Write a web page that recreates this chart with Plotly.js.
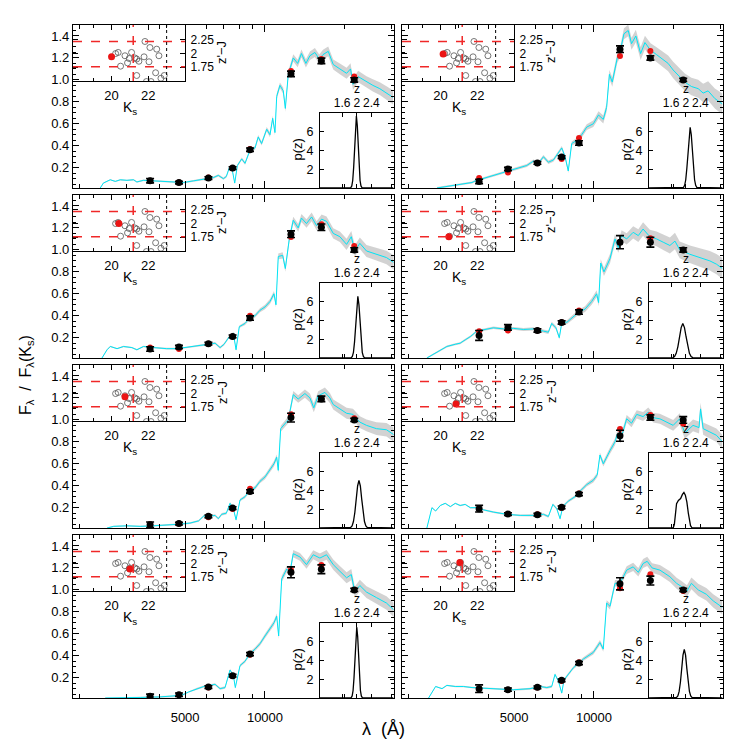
<!DOCTYPE html>
<html><head><meta charset="utf-8">
<script src="https://cdn.plot.ly/plotly-3.0.1.min.js"></script>
<style>html,body{margin:0;padding:0;background:#fff;}#plot{width:747px;height:747px;}</style>
</head><body><div id="plot"></div>
<script>
// ---------------- DATA ----------------
const filterWave = [3690, 4740, 6120, 7550, 8780, 12530, 16310, 21690];

const obs1 = [0.082,0.065,0.106,0.197,0.364,1.055,1.173,1.0];
const obs2 = [0.075,0.188,0.243,0.297,0.425,1.28,1.2,1.0];
const obs3 = [0.097,0.115,0.145,0.212,0.379,1.143,1.206,1.0];
const obs4 = [0.221,0.294,0.266,0.339,0.433,1.07,1.07,1.0];
const obs5 = [0.045,0.055,0.121,0.197,0.348,1.021,1.191,1.0];
const obs6 = [0.191,0.142,0.136,0.203,0.324,0.855,1.021,1.0];
const obs7 = [0.03,0.045,0.115,0.218,0.415,1.16,1.188,1.0];
const obs8 = [0.1,0.091,0.112,0.176,0.333,1.055,1.085,1.0];

const err1 = [0.02,0.012,0.012,0.012,0.015,0.025,0.025,0.02];
const err2 = [0.02,0.015,0.012,0.012,0.02,0.03,0.02,0.015];
const err3 = [0.02,0.015,0.012,0.012,0.02,0.03,0.03,0.02];
const err4 = [0.045,0.025,0.015,0.015,0.02,0.06,0.045,0.02];
const err5 = [0.025,0.012,0.012,0.012,0.015,0.04,0.025,0.015];
const err6 = [0.03,0.012,0.012,0.012,0.015,0.05,0.025,0.03];
const err7 = [0.02,0.015,0.012,0.012,0.015,0.05,0.04,0.015];
const err8 = [0.035,0.015,0.012,0.012,0.015,0.055,0.04,0.015];

const model1 = [0.08,0.065,0.11,0.195,0.37,1.08,1.19,1.03];
const model2 = [0.105,0.157,0.24,0.28,0.47,1.218,1.264,1.0];
const model3 = [0.11,0.097,0.145,0.21,0.40,1.117,1.233,1.036];
const model4 = [0.258,0.266,0.266,0.34,0.448,1.07,1.106,1.0];
const model5 = [0.05,0.055,0.112,0.188,0.372,1.052,1.19,1.015];
const model6 = [0.19,0.142,0.14,0.2,0.33,0.918,1.045,0.964];
const model7 = [0.03,0.045,0.11,0.215,0.41,1.18,1.227,1.0];
const model8 = [0.1,0.09,0.11,0.17,0.34,1.015,1.143,0.99];

// template spectra: [wavelength (A), F_lambda / F_lambda(Ks)]
const spec1 = [[2394,0.015],[2460,0.06],[2612,0.09],[2728,0.075],[2849,0.09],[3017,0.085],[3195,0.09],[3290,0.07],[3485,0.085],[3800,0.08],[4145,0.075],[4520,0.065],[4930,0.065],[5375,0.08],[5693,0.09],[6035,0.1],[6390,0.11],[6670,0.13],[6970,0.1],[7150,0.12],[7340,0.2],[7540,0.17],[7690,0.06],[7870,0.22],[8170,0.28],[8410,0.24],[8781,0.36],[9170,0.38],[9430,0.48],[9710,0.42],[10150,0.55],[10443,0.5],[10690,0.65],[10905,0.52],[11070,0.85],[11387,0.95],[11720,0.9],[11930,0.74],[12240,1.05],[12780,1.2],[13280,1.15],[13720,1.24],[14260,1.15],[14770,1.22],[15420,1.25],[16010,1.19],[16540,1.23],[17310,1.26],[18080,1.14],[19150,1.1],[20300,1.06],[21010,1.1],[21460,0.96],[22440,1.03],[24130,0.98],[25500,0.95],[27080,0.92],[28700,0.88],[30400,0.84]];
const spec2 = [[2560,0.015],[2790,0.03],[3130,0.05],[3470,0.065],[3570,0.08],[4060,0.12],[4690,0.165],[5270,0.2],[5580,0.22],[5910,0.26],[6170,0.24],[6450,0.3],[6730,0.25],[7030,0.27],[7340,0.33],[7560,0.38],[7780,0.3],[8000,0.17],[8240,0.42],[8620,0.45],[8990,0.5],[9390,0.57],[9940,0.6],[10400,0.68],[10840,0.64],[11160,0.75],[11430,1.05],[11720,0.98],[12000,1.1],[12240,1.2],[12530,1.25],[12970,1.42],[13460,1.45],[13850,1.33],[14380,1.4],[14990,1.24],[15560,1.34],[16340,1.27],[17210,1.23],[18230,1.18],[19030,1.15],[19880,1.09],[21040,1.03],[21990,0.98],[23290,0.94],[24700,0.92],[25790,0.88],[26920,0.9],[28540,0.83],[30480,0.78]];
const spec3 = [[2430,0.015],[2540,0.09],[2612,0.12],[2770,0.1],[2930,0.12],[3150,0.11],[3290,0.09],[3485,0.12],[3800,0.11],[4260,0.1],[4650,0.1],[5070,0.11],[5693,0.13],[6156,0.14],[6484,0.15],[6771,0.11],[7010,0.14],[7340,0.21],[7600,0.24],[7780,0.09],[8000,0.3],[8410,0.33],[8781,0.38],[9170,0.4],[9576,0.45],[10000,0.48],[10443,0.53],[10810,0.6],[11000,0.5],[11220,0.94],[11660,0.95],[11930,0.83],[12350,1.1],[12780,1.27],[13340,1.2],[13720,1.29],[14340,1.24],[14990,1.3],[15650,1.22],[16340,1.28],[17060,1.26],[18080,1.15],[19150,1.12],[20300,1.05],[21150,1.12],[21810,0.99],[22775,1.06],[24130,0.99],[26300,0.96],[28700,0.93],[30800,0.88]];
const spec4 = [[2345,0.015],[2560,0.07],[2790,0.12],[3000,0.14],[3130,0.15],[3270,0.18],[3420,0.21],[3620,0.26],[3840,0.27],[4180,0.29],[4560,0.28],[4970,0.285],[5420,0.275],[5910,0.28],[6450,0.26],[6730,0.25],[6930,0.33],[7190,0.29],[7400,0.2],[7580,0.35],[7900,0.34],[8240,0.38],[8730,0.43],[9250,0.46],[9800,0.53],[10230,0.6],[10410,0.52],[10600,0.88],[10905,0.8],[11490,0.92],[12000,1.1],[12350,1.02],[12700,1.13],[13280,1.1],[14050,1.16],[14690,1.13],[15310,1.19],[16240,1.12],[17210,1.1],[18230,1.07],[19320,1.04],[20190,1.08],[21040,1.0],[22980,0.96],[25030,0.93],[27320,0.9],[28930,0.87],[30480,0.83]];
const spec5 = [[2540,0.015],[2690,0.03],[3017,0.035],[3386,0.03],[3800,0.035],[4260,0.04],[4788,0.05],[5222,0.06],[5620,0.08],[5880,0.125],[6156,0.12],[6484,0.13],[6670,0.1],[6870,0.14],[7150,0.15],[7384,0.24],[7600,0.19],[7780,0.09],[8052,0.27],[8410,0.3],[8781,0.36],[9170,0.38],[9576,0.44],[10000,0.48],[10443,0.55],[10810,0.6],[11070,0.66],[11220,0.54],[11460,0.92],[11890,0.96],[12240,1.0],[12780,1.23],[13340,1.19],[14140,1.24],[14770,1.2],[15270,1.11],[15870,1.22],[16820,1.25],[17560,1.2],[18080,1.14],[19150,1.1],[20300,1.06],[21460,1.05],[22775,0.98],[24130,0.95],[26300,0.92],[28700,0.91],[30800,0.86]];
const spec6 = [[2345,0.015],[2450,0.2],[2530,0.17],[2635,0.22],[2750,0.24],[2875,0.21],[3000,0.24],[3130,0.22],[3270,0.23],[3420,0.2],[3620,0.2],[3840,0.18],[4180,0.16],[4690,0.14],[5270,0.13],[5910,0.13],[6450,0.14],[6730,0.12],[7000,0.23],[7240,0.19],[7450,0.1],[7630,0.21],[8000,0.26],[8480,0.3],[8860,0.35],[9390,0.41],[9940,0.45],[10290,0.5],[10530,0.68],[10840,0.6],[11490,0.72],[12000,0.8],[12240,0.87],[12600,0.82],[13280,1.01],[13850,0.97],[14490,1.05],[15310,1.03],[16010,1.07],[16720,1.02],[17710,1.01],[18760,0.98],[19880,0.95],[21040,1.01],[21990,0.88],[23620,0.95],[24880,0.93],[25210,1.1],[25790,0.92],[27320,0.89],[28930,0.86],[30480,0.8]];
const spec7 = [[2500,0.015],[2849,0.02],[3386,0.02],[4027,0.025],[4520,0.03],[4860,0.04],[5150,0.07],[5540,0.1],[5880,0.12],[6210,0.13],[6484,0.14],[6771,0.1],[7071,0.11],[7384,0.27],[7600,0.22],[7730,0.11],[8052,0.31],[8410,0.35],[8781,0.42],[9170,0.46],[9576,0.51],[10000,0.58],[10443,0.65],[10810,0.7],[11070,0.76],[11260,0.58],[11560,1.1],[12080,1.19],[12418,1.16],[12780,1.33],[13542,1.3],[14340,1.23],[15200,1.32],[16104,1.29],[17060,1.32],[18080,1.23],[19150,1.17],[20300,1.11],[21150,1.14],[21810,0.98],[22775,1.04],[24130,0.98],[26300,0.93],[28700,0.88],[30800,0.81]];
const spec8 = [[2380,0.015],[2530,0.12],[2675,0.1],[2790,0.13],[3000,0.12],[3220,0.12],[3470,0.11],[3720,0.105],[4300,0.1],[4970,0.09],[5740,0.1],[6260,0.12],[6640,0.11],[6930,0.12],[7130,0.23],[7340,0.17],[7560,0.06],[7710,0.18],[8360,0.29],[9120,0.37],[9940,0.43],[10530,0.52],[10840,0.46],[11160,0.88],[11490,0.85],[12000,1.06],[12530,1.06],[13280,1.18],[14050,1.21],[14690,1.16],[15310,1.24],[15870,1.26],[16560,1.2],[17710,1.18],[19320,1.12],[20480,1.06],[21370,1.03],[22410,0.99],[23290,1.06],[24700,1.0],[26510,0.96],[28140,0.9],[30480,0.84]];

// half-width of the grey uncertainty band along wavelength
const bandWave = [2300, 5000, 8000, 10000, 12000, 15000, 20000, 25000, 31000];
const bandHalf = [0.005, 0.008, 0.012, 0.02, 0.03, 0.04, 0.05, 0.055, 0.065];
const bandScale = [1, 1.5, 1, 1.5, 1, 1, 1, 1];

// colour-magnitude inset: comparison sample (open circles)
const sampleKs    = [20.22,20.36,20.49,20.73,20.87,20.96,21.09,21.27,21.37,21.49,21.37,21.82,21.77,22.04,22.09,22.46,22.58,22.40,22.69,22.87,21.9,22.15];
const sampleColor = [2.0,2.02,1.77,1.96,1.83,1.91,2.02,1.92,1.90,1.86,1.6,2.22,1.94,1.85,2.11,2.08,1.96,1.65,1.55,1.60,1.49,1.49];
// highlighted object per panel
const objKs    = [20.0,20.14,20.4,20.45,20.73,20.84,21.0,21.05];
const objColor = [1.94,1.99,2.0,1.76,1.94,1.81,1.9,2.02];
const cutKs = 21.18, cutColorHi = 2.22, cutColorLo = 1.76, limitKs = 23.0;

// p(z) curves
const pzZ1 = [1.0,1.84,1.865,1.89,1.915,1.94,1.965,1.99,2.015,2.04,2.065,2.09,2.115,2.14,3.0];
const pzP1 = [0,0.05,0.22,0.8,2.16,4.37,6.68,7.7,6.68,4.37,2.16,0.8,0.22,0.05,0];
const pzZ2 = [1.0,1.94,1.97,2.0,2.03,2.06,2.09,2.12,2.15,2.18,2.21,2.24,2.27,2.30,3.0];
const pzP2 = [0,0.07,0.29,0.88,2.11,3.94,5.73,6.5,5.73,3.94,2.11,0.88,0.29,0.07,0];
const pzZ3 = [1.0,1.85,1.88,1.91,1.94,1.97,2.0,2.03,2.06,2.09,2.12,2.15,2.18,2.21,3.0];
const pzP3 = [0,0.03,0.16,0.61,1.73,3.64,5.69,6.6,5.69,3.64,1.73,0.61,0.16,0.03,0];
const pzZ4 = [1.0,1.65,1.695,1.74,1.785,1.83,1.875,1.92,1.965,2.01,2.055,2.1,2.145,2.19,3.0];
const pzP4 = [0,0.04,0.16,0.5,1.2,2.25,3.26,3.7,3.26,2.25,1.2,0.5,0.16,0.04,0];
const pzZ5 = [1.0,1.835,1.873,1.91,1.948,1.985,2.023,2.06,2.098,2.135,2.173,2.21,2.248,2.285,3.0];
const pzP5 = [0,0.06,0.22,0.69,1.66,3.09,4.5,5.1,4.5,3.09,1.66,0.69,0.22,0.06,0];
const pzZ6 = [1.0,1.66,1.69,1.72,1.75,1.8,1.86,1.91,1.95,1.99,2.03,2.07,2.1,2.13,2.17,3.0];
const pzP6 = [0,0.02,0.4,1.8,2.6,2.95,3.15,3.6,3.8,3.5,2.8,1.6,0.8,0.25,0.02,0];
const pzZ7 = [1.0,1.85,1.875,1.9,1.925,1.95,1.975,2.0,2.025,2.05,2.075,2.1,2.125,2.15,3.0];
const pzP7 = [0,0.05,0.22,0.8,2.13,4.31,6.59,7.6,6.59,4.31,2.13,0.8,0.22,0.05,0];
const pzZ8 = [1.0,1.75,1.785,1.82,1.855,1.89,1.925,1.96,1.995,2.03,2.065,2.1,2.135,2.17,3.0];
const pzP8 = [0,0.06,0.22,0.7,1.69,3.15,4.59,5.2,4.59,3.15,1.69,0.7,0.22,0.06,0];

const xTickVals = [5000, 10000];
const xTickText = ['5000', '10000'];
const xMinorVals = [2000,3000,4000,6000,7000,8000,9000,20000,30000];
const cmdTickVals = [20, 22];
const cmdColorTicks = [1.75, 2, 2.25];
const cmdColorText = ['1.75', '2', '2.25'];
const pzTickVals = [1.6, 2, 2.4];
const pzTickText = ['1.6', '2', '2.4'];
const pTickVals = [2, 4, 6];

// ---------------- BUILD ----------------
const specs = [spec1,spec2,spec3,spec4,spec5,spec6,spec7,spec8];
const obs = [obs1,obs2,obs3,obs4,obs5,obs6,obs7,obs8];
const errs = [err1,err2,err3,err4,err5,err6,err7,err8];
const models = [model1,model2,model3,model4,model5,model6,model7,model8];
const pzZ = [pzZ1,pzZ2,pzZ3,pzZ4,pzZ5,pzZ6,pzZ7,pzZ8];
const pzP = [pzP1,pzP2,pzP3,pzP4,pzP5,pzP6,pzP7,pzP8];

const W = 747, H = 747;
const FONT = 'Liberation Sans, Arial, Helvetica, sans-serif';
const colX = [73, 402], rowTop = [25, 195, 365, 535];
const mainW = 320.5, mainH = 163;
const fx = p => p / W, fy = p => 1 - p / H;
const sfx = n => n === 1 ? '' : String(n);
const CYAN = 'rgb(0,228,245)';

function bandAt(w) {
  const lw = Math.log10(w);
  for (let i = 0; i < bandWave.length - 1; i++) {
    const a = Math.log10(bandWave[i]), b = Math.log10(bandWave[i + 1]);
    if (lw <= b || i === bandWave.length - 2) {
      const t = Math.max(0, Math.min(1, (lw - a) / (b - a)));
      return bandHalf[i] + t * (bandHalf[i + 1] - bandHalf[i]);
    }
  }
  return bandHalf[bandHalf.length - 1];
}

const data = [];
const layout = {
  width: W, height: H, autosize: false,
  margin: {l: 0, r: 0, t: 0, b: 0},
  showlegend: false,
  paper_bgcolor: '#fff', plot_bgcolor: 'rgba(0,0,0,0)',
  font: {family: FONT, size: 13, color: '#000'},
  shapes: [], annotations: []
};

const axCommon = {
  showgrid: false, zeroline: false, showline: true, linecolor: '#000', linewidth: 1.1,
  mirror: 'ticks', ticks: 'inside', tickcolor: '#000', tickwidth: 1,
  tickfont: {family: FONT, size: 13, color: '#000'}, fixedrange: true
};

for (let k = 0; k < 8; k++) {
  const col = k % 2, row = Math.floor(k / 2);
  const x0 = colX[col], top = rowTop[row];
  const mi = k + 1, ci = k + 9, pi = k + 17;

  // ---- main SED panel ----
  layout['xaxis' + sfx(mi)] = Object.assign({}, axCommon, {
    domain: [fx(x0), fx(x0 + mainW)], anchor: 'y' + sfx(mi),
    type: 'log', range: [Math.log10(1890), Math.log10(30500)],
    tickmode: 'array', tickvals: xTickVals, ticktext: xTickText, ticklen: 7,
    showticklabels: row === 3, ticklabelstandoff: 7,
    minor: {tickmode: 'array', tickvals: xMinorVals, ticks: 'inside', ticklen: 4, tickcolor: '#000'}
  });
  layout['yaxis' + sfx(mi)] = Object.assign({}, axCommon, {
    domain: [fy(top + mainH), fy(top)], anchor: 'x' + sfx(mi),
    range: [0.015, 1.5], tickmode: 'linear', tick0: 0.2, dtick: 0.2, tickformat: '.1f',
    ticklen: 6, showticklabels: col === 0,
    minor: {dtick: 0.05, tick0: 0, ticks: 'inside', ticklen: 3, tickcolor: '#000'}
  });

  const sp = specs[k];
  const wv = sp.map(p => p[0]), fl = sp.map(p => p[1]);
  const lo = sp.map(p => p[1] - bandAt(p[0]) * bandScale[k]);
  const hi = sp.map(p => p[1] + bandAt(p[0]) * bandScale[k]);
  const xr = 'x' + sfx(mi), yr = 'y' + sfx(mi);
  data.push({x: wv, y: lo, xaxis: xr, yaxis: yr, type: 'scatter', mode: 'lines', line: {width: 0, color: 'rgba(0,0,0,0)'}, hoverinfo: 'skip'});
  data.push({x: wv, y: hi, xaxis: xr, yaxis: yr, type: 'scatter', mode: 'lines', line: {width: 0, color: 'rgba(0,0,0,0)'}, fill: 'tonexty', fillcolor: 'rgba(195,195,195,0.75)', hoverinfo: 'skip'});
  data.push({x: wv, y: fl, xaxis: xr, yaxis: yr, type: 'scatter', mode: 'lines', line: {width: 1, color: CYAN}});
  data.push({x: filterWave, y: models[k], xaxis: xr, yaxis: yr, type: 'scatter', mode: 'markers', marker: {size: 6, color: 'rgb(235,20,20)'}});
  data.push({x: filterWave, y: obs[k], xaxis: xr, yaxis: yr, type: 'scatter', mode: 'markers',
    marker: {size: 7, color: '#000'},
    error_y: {type: 'data', array: errs[k], color: '#000', thickness: 1.6, width: 4}});

  // ---- colour-magnitude inset ----
  const cx0 = x0, cx1 = x0 + 112, cy0 = top, cy1 = top + 56;
  layout['xaxis' + ci] = Object.assign({}, axCommon, {
    domain: [fx(cx0), fx(cx1)], anchor: 'y' + ci, range: [17.9, 24.0],
    tickmode: 'array', tickvals: cmdTickVals, ticklen: 5, ticklabelstandoff: 2,
    minor: {tickmode: 'array', tickvals: [19, 21, 23], ticks: 'inside', ticklen: 3, tickcolor: '#000'}
  });
  layout['yaxis' + ci] = Object.assign({}, axCommon, {
    domain: [fy(cy1), fy(cy0)], anchor: 'x' + ci, range: [1.5, 2.52], side: 'right',
    tickmode: 'array', tickvals: cmdColorTicks, ticktext: cmdColorText, ticklen: 5, ticklabelstandoff: 2,
    tickfont: {family: FONT, size: 12, color: '#000'}
  });
  data.push({x: sampleKs, y: sampleColor, xaxis: 'x' + ci, yaxis: 'y' + ci, type: 'scatter', mode: 'markers',
    marker: {size: 6, symbol: 'circle-open', color: '#555', line: {width: 0.8, color: '#555'}}});
  data.push({x: [objKs[k]], y: [objColor[k]], xaxis: 'x' + ci, yaxis: 'y' + ci, type: 'scatter', mode: 'markers',
    marker: {size: 7, color: 'rgb(235,20,20)'}});
  layout.shapes.push({type: 'line', xref: 'x' + ci, yref: 'y' + ci + ' domain', x0: cutKs, x1: cutKs, y0: 0, y1: 1, line: {color: 'rgb(240,40,40)', width: 1.5, dash: 'dash'}});
  layout.shapes.push({type: 'line', xref: 'x' + ci + ' domain', yref: 'y' + ci, x0: 0, x1: 1, y0: cutColorHi, y1: cutColorHi, line: {color: 'rgb(240,40,40)', width: 1.5, dash: 'dash'}});
  layout.shapes.push({type: 'line', xref: 'x' + ci + ' domain', yref: 'y' + ci, x0: 0, x1: 1, y0: cutColorLo, y1: cutColorLo, line: {color: 'rgb(240,40,40)', width: 1.5, dash: 'dash'}});
  layout.shapes.push({type: 'line', xref: 'x' + ci, yref: 'y' + ci + ' domain', x0: limitKs, x1: limitKs, y0: 0, y1: 1, line: {color: '#000', width: 1, dash: 'dot'}});
  layout.annotations.push({xref: 'paper', yref: 'paper', x: fx(x0 + 57), y: fy(top + 83), text: 'K<sub>s</sub>', showarrow: false, font: {family: FONT, size: 14}, xanchor: 'center', yanchor: 'middle'});
  layout.annotations.push({xref: 'paper', yref: 'paper', x: fx(x0 + 149), y: fy(top + 27), text: "z'\u2212J", textangle: -90, showarrow: false, font: {family: FONT, size: 13}, xanchor: 'center', yanchor: 'middle'});

  // ---- p(z) inset ----
  const px0 = x0 + 247, px1 = x0 + mainW, py0 = top + 88.3, py1 = top + mainH;
  layout['xaxis' + pi] = Object.assign({}, axCommon, {
    domain: [fx(px0), fx(px1)], anchor: 'y' + pi, range: [1, 3], side: 'top',
    tickmode: 'array', tickvals: pzTickVals, ticktext: pzTickText, ticklen: 4, ticklabelstandoff: 0,
    tickfont: {family: FONT, size: 12, color: '#000'}
  });
  layout['yaxis' + pi] = Object.assign({}, axCommon, {
    domain: [fy(py1), fy(py0)], anchor: 'x' + pi, range: [0, 8],
    tickmode: 'array', tickvals: pTickVals, ticklen: 4, ticklabelstandoff: 3,
    tickfont: {family: FONT, size: 12.5, color: '#000'}
  });
  data.push({x: pzZ[k], y: pzP[k], xaxis: 'x' + pi, yaxis: 'y' + pi, type: 'scatter', mode: 'lines', line: {color: '#000', width: 1.3}});
  layout.annotations.push({xref: 'paper', yref: 'paper', x: fx(x0 + 283.7), y: fy(top + 64), text: 'z', showarrow: false, font: {family: FONT, size: 12}, xanchor: 'center', yanchor: 'middle'});
  layout.annotations.push({xref: 'paper', yref: 'paper', x: fx(x0 + 223.5), y: fy(top + 125), text: 'p(z)', textangle: -90, showarrow: false, font: {family: FONT, size: 13}, xanchor: 'center', yanchor: 'middle'});
}

// global axis titles
layout.annotations.push({xref: 'paper', yref: 'paper', x: fx(26), y: fy(375), text: 'F<sub>\u03bb</sub>  /  F<sub>\u03bb</sub>(K<sub>s</sub>)', textangle: -90, showarrow: false, font: {family: FONT, size: 16}, xanchor: 'center', yanchor: 'middle'});
layout.annotations.push({xref: 'paper', yref: 'paper', x: fx(383), y: fy(729), text: '\u03bb  (\u00c5)', showarrow: false, font: {family: FONT, size: 18}, xanchor: 'center', yanchor: 'middle'});

Plotly.newPlot('plot', data, layout, {staticPlot: true, displayModeBar: false});
</script>
</body></html>
